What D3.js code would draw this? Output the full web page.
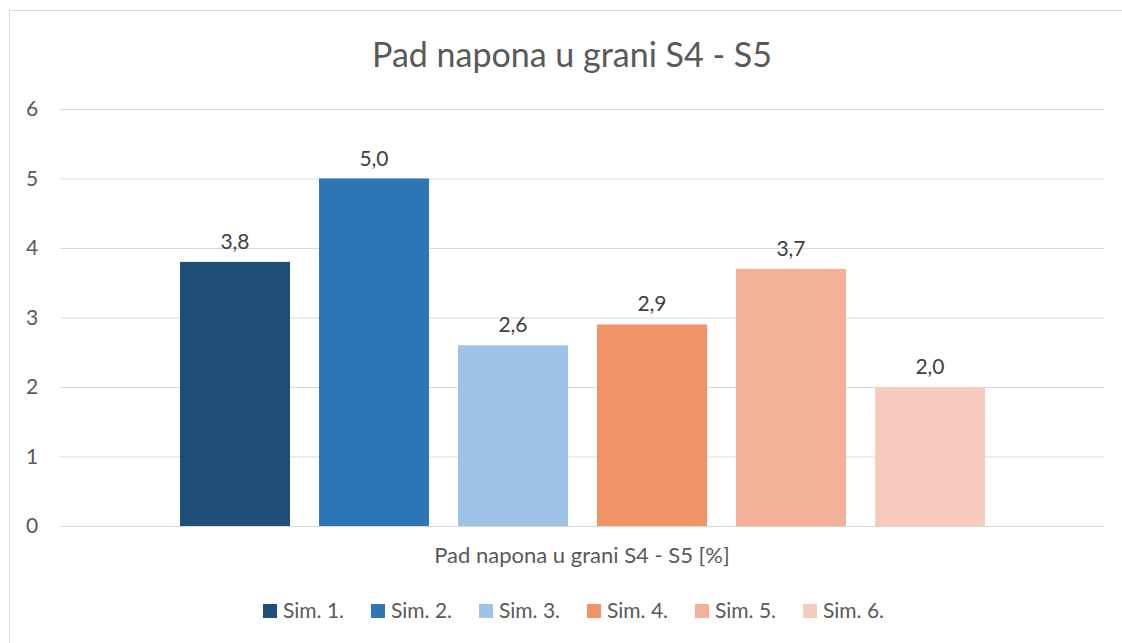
<!DOCTYPE html>
<html>
<script src='https://d3js.org/d3.v7.min.js'></script>
<style>
 body {margin:0; background:#fff;}
 text {font-family: Lato, 'Open Sans', sans-serif; fill:#595959;}
</style>
<body>
<svg width=1122 height=643></svg>
<script>

const series = ['Sim. 1.', 'Sim. 2.', 'Sim. 3.', 'Sim. 4.', 'Sim. 5.', 'Sim. 6.'];
const values = [3.8, 5.0, 2.6, 2.9, 3.7, 2.0];
const colors = ['#1F4E79', '#2E75B6', '#9DC3E6', '#F09366', '#F3B19A', '#F6CBBE'];
const yTicks = [0, 1, 2, 3, 4, 5, 6];
const title = 'Pad napona u grani S4 - S5';
const xTitle = 'Pad napona u grani S4 - S5 [%]';

const svg = d3.select('svg');

// chart frame
svg.append('rect')
  .attr('x', 9.5).attr('y', 10.5)
  .attr('width', 1200).attr('height', 700)
  .attr('fill', 'none').attr('stroke', '#d9d9d9');

const plotLeft = 60, plotRight = 1104, plotTop = 109, plotBottom = 526;

var y = d3.scaleLinear().domain([0, 6]).range([plotBottom, plotTop]);
// step 139, bar 110
var pad = 29 / 139;
var x = d3.scaleBand().domain(series)
  .range([180 - 139 * pad / 2, 180 - 139 * pad / 2 + 6 * 139])
  .paddingInner(pad).paddingOuter(pad / 2);

// gridlines
svg.append('g')
  .selectAll('line')
  .data(yTicks)
  .enter()
  .append('line')
    .attr('x1', plotLeft).attr('x2', plotRight)
    .attr('y1', d => y(d) + 0.5).attr('y2', d => y(d) + 0.5)
    .attr('stroke', '#d9d9d9').attr('stroke-width', 1);

// y labels
svg.append('g')
  .selectAll('text')
  .data(yTicks)
  .enter()
  .append('text')
    .attr('x', 32).attr('y', d => y(d))
    .attr('dy', '0.35em')
    .attr('text-anchor', 'middle')
    .style('font-size', '21px')
    .text(d => d);

// bars
svg.append('g')
  .selectAll('rect')
  .data(values)
  .enter()
  .append('rect')
    .attr('x', (d, i) => x(series[i]))
    .attr('y', d => y(d))
    .attr('width', x.bandwidth())
    .attr('height', d => y(0) - y(d))
    .attr('fill', (d, i) => colors[i]);

// data labels
svg.append('g')
  .selectAll('text')
  .data(values)
  .enter()
  .append('text')
    .attr('x', (d, i) => x(series[i]) + x.bandwidth() / 2)
    .attr('y', d => y(d) - 13)
    .attr('text-anchor', 'middle')
    .style('font-size', '21px')
    .style('fill', '#404040')
    .text(d => d.toFixed(1).replace('.', ','));

// title
svg.append('text')
  .attr('x', 572).attr('y', 67)
  .attr('text-anchor', 'middle')
  .style('font-size', '34px')
  .text(title);

// x axis title
svg.append('text')
  .attr('x', 582).attr('y', 563)
  .attr('text-anchor', 'middle')
  .style('font-size', '22px')
  .text(xTitle);

// legend
const leg = svg.append('g')
  .selectAll('g')
  .data(series)
  .enter()
  .append('g')
    .attr('transform', (d, i) => 'translate(' + (263 + i * 108) + ',604)');
leg.append('rect')
  .attr('width', 14).attr('height', 14)
  .attr('fill', (d, i) => colors[i]);
leg.append('text')
  .attr('x', 20).attr('y', 7).attr('dy', '0.35em')
  .style('font-size', '21px')
  .text(d => d);

</script>
</body>
</html>
